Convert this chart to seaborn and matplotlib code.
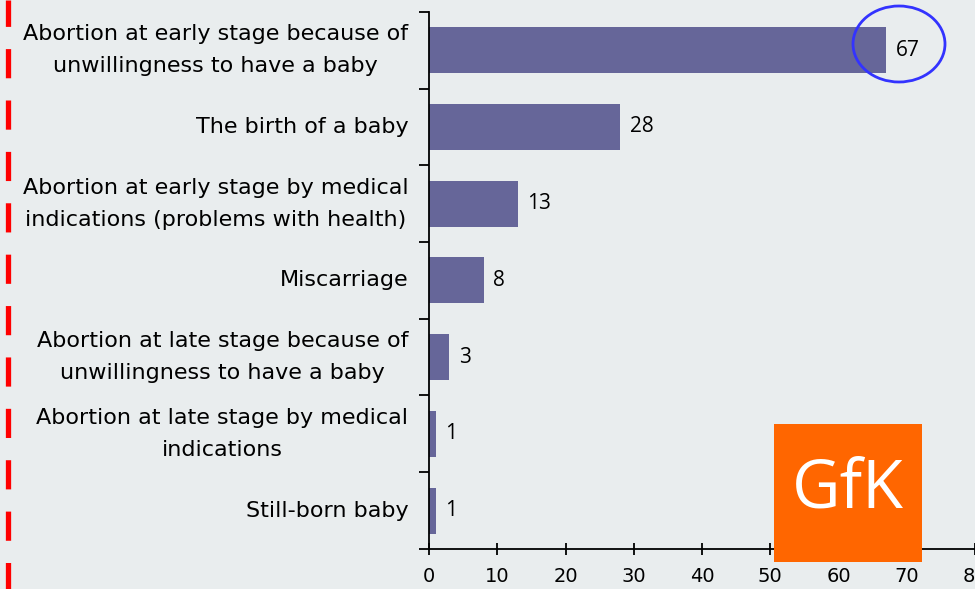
import matplotlib
matplotlib.use("Agg")
import matplotlib.pyplot as plt
from matplotlib.patches import Rectangle, Ellipse
from matplotlib.lines import Line2D
import seaborn as sns
import pandas as pd

# данные с картинки
categories = [
    "Abortion at early stage because of\nunwillingness to have a baby",
    "The birth of a baby",
    "Abortion at early stage by medical\nindications (problems with health)",
    "Miscarriage",
    "Abortion at late stage because of\nunwillingness to have a baby",
    "Abortion at late stage by medical\nindications",
    "Still-born baby",
]
values = [67, 28, 13, 8, 3, 1, 1]
x_ticks = [0, 10, 20, 30, 40, 50, 60, 70, 80]

bg = "#E9EDEE"
bar_color = "#666699"

sns.set_theme(style="white", rc={"axes.facecolor": bg, "figure.facecolor": bg,
                                 "text.color": "black",
                                 "xtick.color": "black", "ytick.color": "black"})
plt.rcParams["font.family"] = ["DejaVu Sans"]
plt.rcParams["lines.scale_dashes"] = False

df = pd.DataFrame({"category": categories, "value": values})

fig = plt.figure(figsize=(9.75, 5.89), dpi=100)
ax = fig.add_axes([0.44, 0.068, 0.56, 0.912])

sns.barplot(data=df, x="value", y="category", orient="h", color=bar_color,
            saturation=1, width=0.6, linewidth=0, ax=ax)

ax.bar_label(ax.containers[0], padding=7, fontsize=15, family="Open Sans",
             color="black")

ax.set_xlim(0, 80)
ax.set_ylim(len(categories) - 0.5, -0.5)
ax.set_xticks(x_ticks)
ax.set_xlabel("")
ax.set_ylabel("")

# разделители категорий вместо обычных тиков
ax.set_yticks([i - 0.5 for i in range(len(categories) + 1)], minor=True)
ax.tick_params(axis="y", which="major", length=0, pad=15, labelsize=16,
               labelcolor="black")
ax.tick_params(axis="y", which="minor", left=True, length=7, width=1.3,
               direction="out", color="black")
ax.tick_params(axis="x", which="major", bottom=True, length=8, width=1.3,
               direction="inout", pad=9, labelsize=14, color="black",
               labelcolor="black")
for lbl in ax.get_yticklabels():
    lbl.set_multialignment("center")
    lbl.set_linespacing(1.75)
    lbl.set_verticalalignment("center")

for side in ["top", "right"]:
    ax.spines[side].set_visible(False)
for side in ["left", "bottom"]:
    ax.spines[side].set_color("black")
    ax.spines[side].set_linewidth(1.3)

# красная пунктирная линия слева
fig.add_artist(Line2D([0.0085, 0.0085], [1, 0], transform=fig.transFigure,
                      color="red", linewidth=3.8, solid_capstyle="butt",
                      dash_capstyle="butt",
                      linestyle=(2, (21, 16))))

# логотип GfK
fig.add_artist(Rectangle((774 / 975, 1 - 562 / 589), 148 / 975, 138 / 589,
                         transform=fig.transFigure, facecolor="#FF6600",
                         edgecolor="none", zorder=5))
fig.text(848 / 975, 1 - 490 / 589, "GfK", color="white", fontsize=48,
         family="Open Sans", ha="center", va="center", zorder=6)

# синий овал вокруг 67
fig.add_artist(Ellipse((899 / 975, 1 - 44 / 589), 92 / 975, 76 / 589,
                       transform=fig.transFigure, facecolor="none",
                       edgecolor="#3333FF", linewidth=2, zorder=6))

fig.savefig("out.png", dpi=100, facecolor=bg)
